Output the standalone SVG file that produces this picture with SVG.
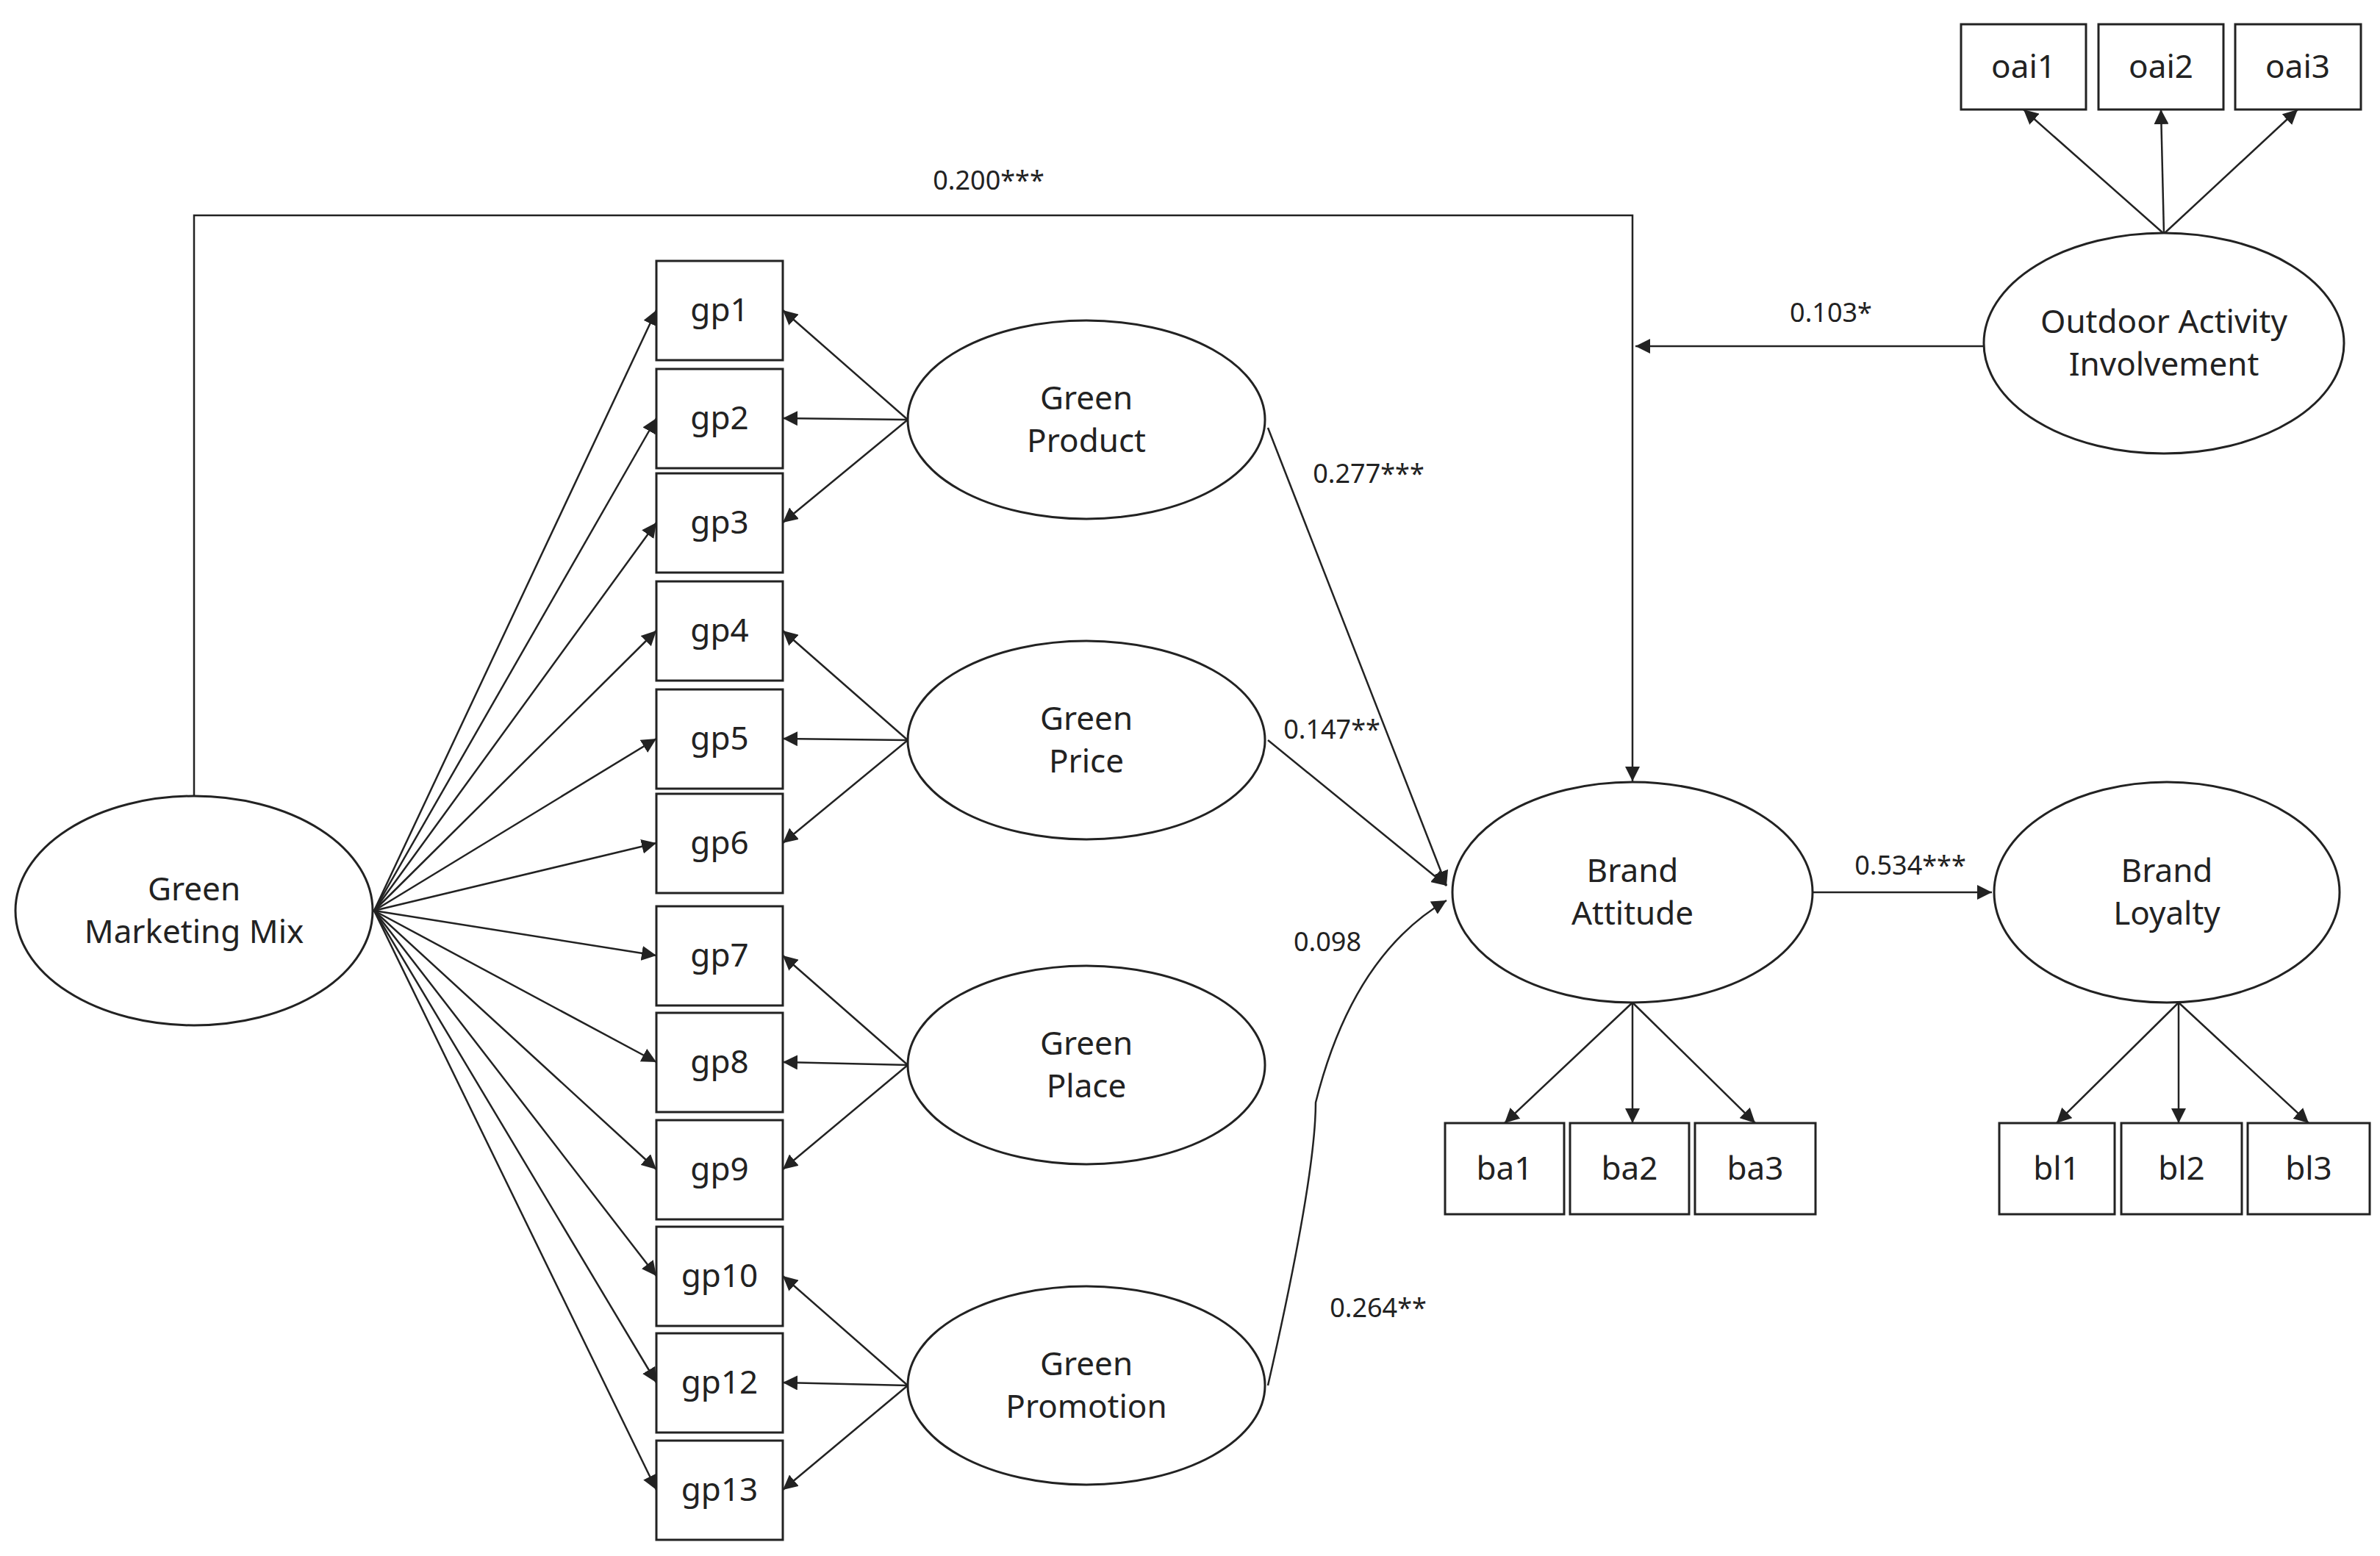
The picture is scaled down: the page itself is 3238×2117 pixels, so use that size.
<svg xmlns="http://www.w3.org/2000/svg" width="3238" height="2117" viewBox="0 0 3238 2117">
<style>
.n{fill:#fff;stroke:#222;stroke-width:3}
.t{font-family:"Noto Sans","Open Sans",sans-serif;font-size:44px;fill:#222;text-anchor:middle}
.v{font-family:"Noto Sans","Open Sans",sans-serif;font-size:36px;fill:#222;text-anchor:middle}
.c{fill:none;stroke:#222;stroke-width:2.5;marker-end:url(#a)}
</style>
<defs><marker id="a" viewBox="0 0 10 10" refX="10" refY="5" markerWidth="9" markerHeight="9" orient="auto" markerUnits="userSpaceOnUse"><path d="M0,0L10,5L0,10z" fill="#222" transform="scale(1)"/></marker>
<marker id="b" viewBox="0 0 10 10" refX="10" refY="5" markerWidth="20" markerHeight="20" orient="auto" markerUnits="userSpaceOnUse"><path d="M0,0L10,5L0,10z" fill="#222"/></marker></defs>
<rect width="3238" height="2117" fill="#fff"/>
<g id="connectors" fill="none" stroke="#222" stroke-width="2.5" marker-end="url(#b)">
<path d="M264,1084V293H2221V1063"/>
<path d="M2699,471H2225"/>
<path d="M1725,582L1968,1205"/>
<path d="M1725,1007L1968,1205"/>
<path d="M1725,1885Q1790,1600 1790,1500Q1840,1300 1968,1225"/>
<path d="M2464,1214H2710"/>
<path d="M509,1239L893,422"/><path d="M509,1239L893,569"/><path d="M509,1239L893,711"/><path d="M509,1239L893,858"/><path d="M509,1239L893,1005"/><path d="M509,1239L893,1147"/><path d="M509,1239L893,1300"/><path d="M509,1239L893,1445"/><path d="M509,1239L893,1591"/><path d="M509,1239L893,1736"/><path d="M509,1239L893,1881"/><path d="M509,1239L893,2027"/>
<path d="M1235,571L1065,422"/><path d="M1235,571L1065,569"/><path d="M1235,571L1065,711"/>
<path d="M1235,1007L1065,858"/><path d="M1235,1007L1065,1005"/><path d="M1235,1007L1065,1147"/>
<path d="M1235,1449L1065,1300"/><path d="M1235,1449L1065,1445"/><path d="M1235,1449L1065,1591"/>
<path d="M1235,1885L1065,1736"/><path d="M1235,1885L1065,1881"/><path d="M1235,1885L1065,2027"/>
<path d="M2221,1364L2047,1528"/><path d="M2221,1364V1528"/><path d="M2221,1364L2388,1528"/>
<path d="M2964,1364L2798,1528"/><path d="M2964,1364V1528"/><path d="M2964,1364L3141,1528"/>
<path d="M2944,318L2753,149"/><path d="M2944,318L2940,149"/><path d="M2944,318L3126,149"/>
</g>
<g id="labels">
<text class="v" x="1345" y="258">0.200***</text>
<text class="v" x="2491" y="438">0.103*</text>
<text class="v" x="1862" y="657">0.277***</text>
<text class="v" x="1812" y="1005">0.147**</text>
<text class="v" x="1806" y="1294">0.098</text>
<text class="v" x="1875" y="1792">0.264**</text>
<text class="v" x="2599" y="1190">0.534***</text>
</g>
<g id="gmm"><ellipse class="n" cx="264" cy="1239" rx="243" ry="156"/><text class="t" x="264" y="1225">Green</text><text class="t" x="264" y="1283">Marketing Mix</text></g>
<g id="gprod"><ellipse class="n" cx="1478" cy="571" rx="243" ry="135"/><text class="t" x="1478" y="557">Green</text><text class="t" x="1478" y="615">Product</text></g>
<g id="gprice"><ellipse class="n" cx="1478" cy="1007" rx="243" ry="135"/><text class="t" x="1478" y="993">Green</text><text class="t" x="1478" y="1051">Price</text></g>
<g id="gplace"><ellipse class="n" cx="1478" cy="1449" rx="243" ry="135"/><text class="t" x="1478" y="1435">Green</text><text class="t" x="1478" y="1493">Place</text></g>
<g id="gpromo"><ellipse class="n" cx="1478" cy="1885" rx="243" ry="135"/><text class="t" x="1478" y="1871">Green</text><text class="t" x="1478" y="1929">Promotion</text></g>
<g id="ba"><ellipse class="n" cx="2221" cy="1214" rx="245" ry="150"/><text class="t" x="2221" y="1200">Brand</text><text class="t" x="2221" y="1258">Attitude</text></g>
<g id="bl"><ellipse class="n" cx="2948" cy="1214" rx="235" ry="150"/><text class="t" x="2948" y="1200">Brand</text><text class="t" x="2948" y="1258">Loyalty</text></g>
<g id="oai"><ellipse class="n" cx="2944" cy="467" rx="245" ry="150"/><text class="t" x="2944" y="453">Outdoor Activity</text><text class="t" x="2944" y="511">Involvement</text></g>
<g id="gp1"><rect class="n" x="893" y="355" width="172" height="135"/><text class="t" x="979" y="437">gp1</text></g>
<g id="gp2"><rect class="n" x="893" y="502" width="172" height="135"/><text class="t" x="979" y="584">gp2</text></g>
<g id="gp3"><rect class="n" x="893" y="644" width="172" height="135"/><text class="t" x="979" y="726">gp3</text></g>
<g id="gp4"><rect class="n" x="893" y="791" width="172" height="135"/><text class="t" x="979" y="873">gp4</text></g>
<g id="gp5"><rect class="n" x="893" y="938" width="172" height="135"/><text class="t" x="979" y="1020">gp5</text></g>
<g id="gp6"><rect class="n" x="893" y="1080" width="172" height="135"/><text class="t" x="979" y="1162">gp6</text></g>
<g id="gp7"><rect class="n" x="893" y="1233" width="172" height="135"/><text class="t" x="979" y="1315">gp7</text></g>
<g id="gp8"><rect class="n" x="893" y="1378" width="172" height="135"/><text class="t" x="979" y="1460">gp8</text></g>
<g id="gp9"><rect class="n" x="893" y="1524" width="172" height="135"/><text class="t" x="979" y="1606">gp9</text></g>
<g id="gp10"><rect class="n" x="893" y="1669" width="172" height="135"/><text class="t" x="979" y="1751">gp10</text></g>
<g id="gp12"><rect class="n" x="893" y="1814" width="172" height="135"/><text class="t" x="979" y="1896">gp12</text></g>
<g id="gp13"><rect class="n" x="893" y="1960" width="172" height="135"/><text class="t" x="979" y="2042">gp13</text></g>
<g id="ba1"><rect class="n" x="1966" y="1528" width="162" height="124"/><text class="t" x="2047" y="1605">ba1</text></g>
<g id="ba2"><rect class="n" x="2136" y="1528" width="162" height="124"/><text class="t" x="2217" y="1605">ba2</text></g>
<g id="ba3"><rect class="n" x="2306" y="1528" width="164" height="124"/><text class="t" x="2388" y="1605">ba3</text></g>
<g id="bl1"><rect class="n" x="2720" y="1528" width="157" height="124"/><text class="t" x="2798" y="1605">bl1</text></g>
<g id="bl2"><rect class="n" x="2886" y="1528" width="164" height="124"/><text class="t" x="2968" y="1605">bl2</text></g>
<g id="bl3"><rect class="n" x="3058" y="1528" width="166" height="124"/><text class="t" x="3141" y="1605">bl3</text></g>
<g id="oai1"><rect class="n" x="2668" y="33" width="170" height="116"/><text class="t" x="2753" y="106">oai1</text></g>
<g id="oai2"><rect class="n" x="2855" y="33" width="170" height="116"/><text class="t" x="2940" y="106">oai2</text></g>
<g id="oai3"><rect class="n" x="3041" y="33" width="171" height="116"/><text class="t" x="3126" y="106">oai3</text></g>
</svg>
